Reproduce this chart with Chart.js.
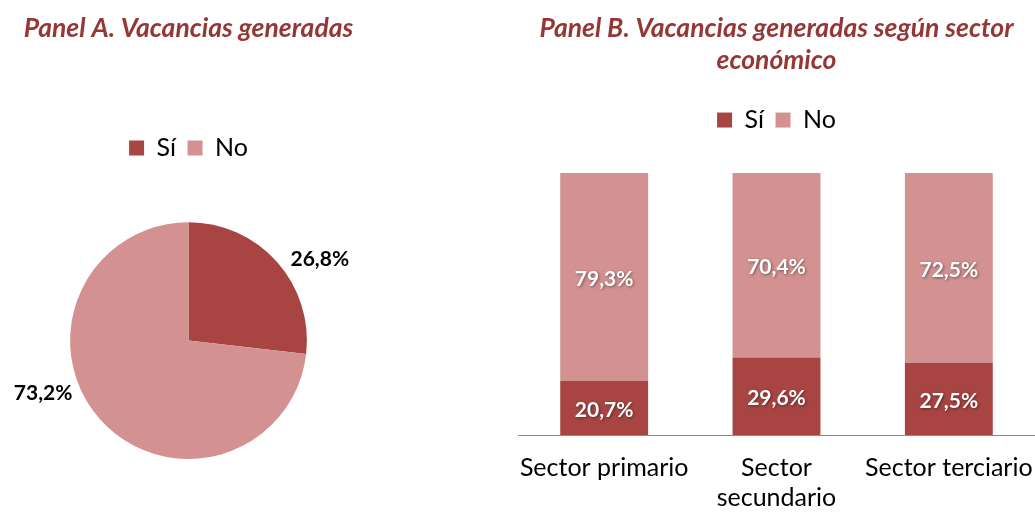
<!DOCTYPE html>
<html>
<head>
<meta charset="utf-8">
<script src="https://cdn.jsdelivr.net/npm/chart.js@4.4.1/dist/chart.umd.min.js"></script>
<style>
  html, body { margin: 0; padding: 0; background: #ffffff; }
  #wrap { position: relative; width: 1035px; height: 512px; overflow: hidden; }
  #boxA { position: absolute; left: 0; top: 0; width: 380px; height: 512px; }
  #boxB { position: absolute; left: 511px; top: 0; width: 524px; height: 512px; }
</style>
</head>
<body>
<div id="wrap">
  <div id="boxA"><canvas id="chartA" width="380" height="512"></canvas></div>
  <div id="boxB"><canvas id="chartB" width="524" height="512"></canvas></div>
</div>
<script>
// ---- data ----
const seriesNames = ['Sí', 'No'];
const panelAValues = [26.8, 73.2];
const sectors = ['Sector primario', 'Sector secundario', 'Sector terciario'];
const siValues = [20.7, 29.6, 27.5];
const noValues = [79.3, 70.4, 72.5];
const titleA = 'Panel A. Vacancias generadas';
const titleB = ['Panel B. Vacancias generadas según sector', 'económico'];

// ---- styles ----
const DARK = '#A84543';
const PINK = '#D39291';
const TITLE_COLOR = '#953735';
const FAMILY = 'Lato, "Open Sans", sans-serif';

function fmt(v) { return v.toFixed(1).replace('.', ',') + '%'; }

function legendGap(extra) {
  return {
    id: 'legendGap',
    beforeInit(chart) {
      const orig = chart.legend.fit;
      chart.legend.fit = function () {
        orig.call(chart.legend);
        this.height += extra;
      };
    }
  };
}

const pieLabels = {
  id: 'pieLabels',
  afterDatasetsDraw(chart, args, opts) {
    const ctx = chart.ctx;
    const meta = chart.getDatasetMeta(0);
    const data = chart.data.datasets[0].data;
    ctx.save();
    ctx.font = 'bold 21px ' + FAMILY;
    ctx.fillStyle = '#000000';
    ctx.textAlign = 'center';
    ctx.textBaseline = 'middle';
    meta.data.forEach((arc, i) => {
      const p = arc.getProps(['x', 'y', 'startAngle', 'endAngle', 'outerRadius'], true);
      const mid = (p.startAngle + p.endAngle) / 2 + (opts.shift[i] || 0) * Math.PI / 180;
      const d = p.outerRadius + opts.distance;
      ctx.fillText(fmt(data[i]), p.x + Math.cos(mid) * d, p.y + Math.sin(mid) * d);
    });
    ctx.restore();
  }
};

const barLabels = {
  id: 'barLabels',
  afterDatasetsDraw(chart, args, opts) {
    const ctx = chart.ctx;
    ctx.save();
    ctx.font = 'bold 21px ' + FAMILY;
    ctx.fillStyle = '#ffffff';
    ctx.textAlign = 'center';
    ctx.textBaseline = 'middle';
    ctx.shadowColor = 'rgba(0,0,0,0.45)';
    ctx.shadowBlur = 3;
    ctx.shadowOffsetX = 1;
    ctx.shadowOffsetY = 1;
    chart.data.datasets.forEach((ds, di) => {
      const meta = chart.getDatasetMeta(di);
      meta.data.forEach((bar, i) => {
        const p = bar.getProps(['x', 'y', 'base'], true);
        ctx.fillText(fmt(ds.data[i]), p.x, (p.y + p.base) / 2 + (opts.dy || 0));
      });
    });
    ctx.restore();
  }
};

const titleFont = { family: FAMILY, size: 26.5, weight: 'bold', style: 'italic', lineHeight: 1.21 };
const legendLabels = { boxWidth: 15, boxHeight: 15, padding: 11.5, color: '#000000', font: { family: FAMILY, size: 25 } };

// ---- Panel A: pie ----
new Chart(document.getElementById('chartA'), {
  type: 'pie',
  data: {
    labels: seriesNames,
    datasets: [{
      data: panelAValues,
      backgroundColor: [DARK, PINK],
      borderWidth: 0,
      hoverOffset: 0
    }]
  },
  options: {
    responsive: false,
    animation: false,
    events: [],
    layout: { padding: { left: 0, right: 3, top: 0, bottom: 53 } },
    plugins: {
      title: { display: true, text: titleA, color: TITLE_COLOR, font: titleFont, padding: { top: 12, bottom: 79.9 } },
      legend: { display: true, position: 'top', labels: legendLabels },
      tooltip: { enabled: false },
      pieLabels: { distance: 36, shift: [10, 22] }
    }
  },
  plugins: [legendGap(51.7), pieLabels]
});

// ---- Panel B: stacked bars ----
new Chart(document.getElementById('chartB'), {
  type: 'bar',
  data: {
    labels: sectors,
    datasets: [
      { label: seriesNames[0], data: siValues, backgroundColor: DARK, borderWidth: 0 },
      { label: seriesNames[1], data: noValues, backgroundColor: PINK, borderWidth: 0 }
    ]
  },
  options: {
    responsive: false,
    animation: false,
    events: [],
    layout: { padding: { left: 7, right: 0, top: 0, bottom: 0 } },
    datasets: { bar: { categoryPercentage: 1, barPercentage: 0.51 } },
    scales: {
      x: {
        stacked: true,
        grid: { display: false, drawTicks: false },
        border: { display: true, color: '#8c8c8c', width: 1 },
        afterFit: function (scale) {
          scale.height -= 19;
          scale.paddingLeft = 0;
          scale.paddingRight = 0;
        },
        ticks: {
          color: '#000000',
          padding: 18,
          maxRotation: 0,
          autoSkip: false,
          font: { family: FAMILY, size: 25, lineHeight: 1.2 },
          callback: function (val, idx) {
            const s = this.getLabelForValue(val);
            return s.length > 16 ? s.split(' ') : s;
          }
        }
      },
      y: {
        stacked: true,
        display: false,
        min: 0,
        max: 100
      }
    },
    plugins: {
      title: { display: true, text: titleB, color: TITLE_COLOR, font: titleFont, padding: { top: 12, bottom: 19.9 } },
      legend: { display: true, position: 'top', labels: legendLabels },
      tooltip: { enabled: false },
      barLabels: { dy: 2 }
    }
  },
  plugins: [legendGap(30.5), barLabels]
});
</script>
</body>
</html>
